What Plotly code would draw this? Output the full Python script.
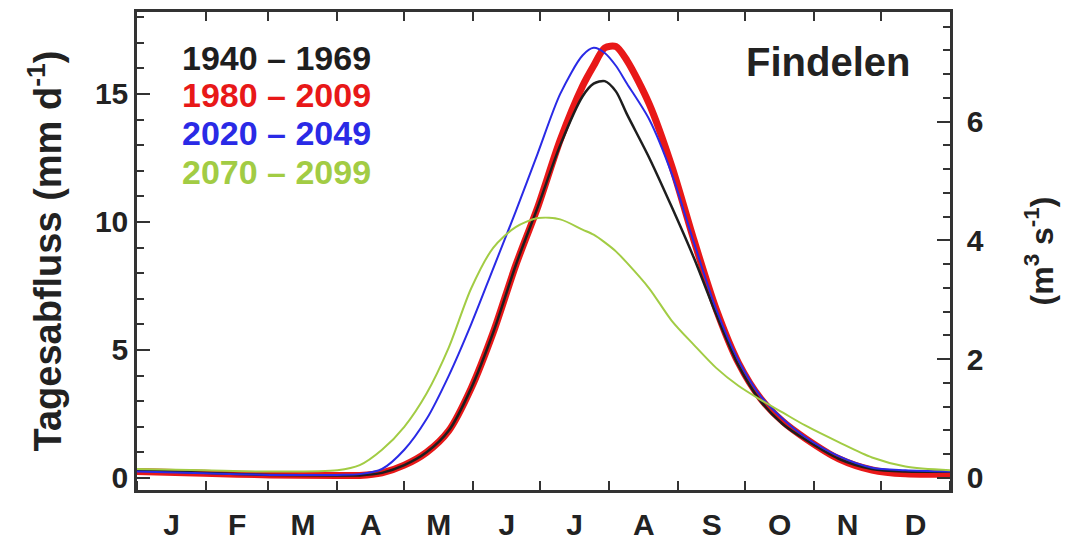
import plotly.graph_objects as go

# ---- data ----
days = [0, 30, 60, 90, 100, 110, 120, 130, 140, 150, 160, 170, 180, 190, 200, 205,
        210, 215, 220, 230, 240, 250, 260, 270, 280, 290, 300, 315, 330, 345, 365]

q_1940_1969 = [0.3, 0.2, 0.12, 0.1, 0.1, 0.2, 0.5, 1.0, 1.85, 3.5, 5.7, 8.3, 10.6, 13.0, 14.9, 15.4,
               15.5, 15.1, 14.2, 12.5, 10.6, 8.6, 6.4, 4.4, 3.0, 2.1, 1.5, 0.75, 0.35, 0.25, 0.25]
q_1980_2009 = [0.25, 0.18, 0.12, 0.1, 0.1, 0.2, 0.5, 1.0, 1.85, 3.5, 5.7, 8.3, 10.6, 13.2, 15.3, 16.1,
               16.8, 16.85, 16.3, 14.6, 12.2, 9.3, 6.6, 4.5, 3.1, 2.2, 1.55, 0.75, 0.31, 0.16, 0.15]
q_2020_2049 = [0.25, 0.18, 0.12, 0.12, 0.15, 0.35, 1.1, 2.3, 4.0, 6.0, 8.2, 10.4, 12.7, 15.0, 16.5, 16.8,
               16.6, 16.1, 15.4, 14.0, 11.9, 9.2, 6.6, 4.6, 3.2, 2.3, 1.6, 0.85, 0.4, 0.3, 0.25]
q_2070_2099 = [0.35, 0.3, 0.25, 0.3, 0.5, 1.1, 2.0, 3.3, 5.1, 7.4, 9.0, 9.8, 10.15, 10.1, 9.7, 9.5,
               9.2, 8.85, 8.4, 7.4, 6.15, 5.2, 4.3, 3.6, 3.05, 2.55, 2.05, 1.4, 0.8, 0.45, 0.3]

periods = ["1940 \u2013 1969", "1980 \u2013 2009", "2020 \u2013 2049", "2070 \u2013 2099"]
month_labels = ["J", "F", "M", "A", "M", "J", "J", "A", "S", "O", "N", "D"]
month_starts = [0, 31, 59, 90, 120, 151, 181, 212, 243, 273, 304, 334, 365]
left_ticks = [0, 5, 10, 15]
left_minor = list(range(0, 19))
right_ticks = [0, 2, 4, 6]
right_minor = [round(0.4 * k, 1) for k in range(0, 20)]
mm_per_m3s = 2.32   # conversion mm/d -> m3/s for Findelen
station = "Findelen"

# ---- styling ----
colors = ["#1e1e1e", "#e81818", "#2a2ae6", "#a2cc44"]
widths = [2.5, 7, 2, 2]
draw_order = [1, 0, 2, 3]
FONT = "Liberation Sans, Arial, sans-serif"
TXT = "#222222"
AX = "#333333"

month_mid = [(month_starts[i] + month_starts[i + 1]) / 2 for i in range(12)]
series = [q_1940_1969, q_1980_2009, q_2020_2049, q_2070_2099]

fig = go.Figure()
for i in draw_order:
    fig.add_trace(go.Scatter(x=days, y=series[i], mode="lines", name=periods[i],
                             line=dict(color=colors[i], width=widths[i], shape="spline", smoothing=0.8),
                             showlegend=False))
# empty traces to activate the extra axes
for ax_kw in [dict(yaxis="y2"), dict(xaxis="x2"), dict(yaxis="y3"), dict(yaxis="y4")]:
    fig.add_trace(go.Scatter(x=[None], y=[None], showlegend=False, hoverinfo="skip", **ax_kw))

y_lo, y_hi = -0.47, 18.2
r_lo, r_hi = y_lo / mm_per_m3s, y_hi / mm_per_m3s

tick_common = dict(tickcolor=AX, tickwidth=2, showgrid=False, zeroline=False, automargin=False)
fnt = dict(size=30, family=FONT, color=TXT, weight="bold")

fig.update_layout(
    width=1075, height=542,
    margin=dict(l=137, r=125, t=12, b=52, autoexpand=False),
    paper_bgcolor="white", plot_bgcolor="white",
    font=dict(family=FONT, color=TXT, size=30, weight="bold"),
    xaxis=dict(range=[0, 365], tickmode="array", tickvals=month_mid, ticktext=month_labels,
               ticks="", showline=True, linecolor=AX, linewidth=2.5, mirror=True,
               ticklabelstandoff=6, tickfont=fnt,
               minor=dict(tickmode="array", tickvals=month_starts, ticks="inside",
                          ticklen=9, tickcolor=AX, tickwidth=2, showgrid=False),
               **{k: v for k, v in tick_common.items() if k not in ("tickcolor", "tickwidth")}),
    xaxis2=dict(range=[0, 365], overlaying="x", side="top", tickmode="array",
                tickvals=month_starts, ticks="inside", ticklen=9, showticklabels=False,
                showline=False, **tick_common),
    yaxis=dict(range=[y_lo, y_hi], tickmode="array", tickvals=left_ticks, ticks="inside",
               ticklen=13, showline=True, linecolor=AX, linewidth=2.5, tickfont=fnt,
               title=dict(text="Tagesabfluss (mm d<sup>-1</sup>)", standoff=22,
                          font=dict(size=38, family=FONT, color=TXT, weight="bold")),
               **tick_common),
    yaxis3=dict(range=[y_lo, y_hi], overlaying="y", side="left", anchor="x", tickmode="array",
                tickvals=left_minor, ticks="inside", ticklen=7, showticklabels=False,
                showline=False, **tick_common),
    yaxis2=dict(range=[r_lo, r_hi], overlaying="y", side="right", anchor="x",
                tickmode="array", tickvals=right_ticks, ticks="inside", ticklen=13,
                showline=True, linecolor=AX, linewidth=2.5, ticklabelstandoff=8, tickfont=fnt,
                title=dict(text="(m<sup>3</sup> s<sup>-1</sup>)", standoff=48,
                           font=dict(size=32, family=FONT, color=TXT, weight="bold")),
                **tick_common),
    yaxis4=dict(range=[r_lo, r_hi], overlaying="y", side="right", anchor="x", tickmode="array",
                tickvals=right_minor, ticks="inside", ticklen=7, showticklabels=False,
                showline=False, **tick_common),
)

legend_y = [0.904, 0.826, 0.747, 0.665]
for i in range(4):
    fig.add_annotation(xref="paper", yref="paper", x=0.053, y=legend_y[i], xanchor="left",
                       yanchor="middle", text=periods[i], showarrow=False,
                       font=dict(size=34, family=FONT, color=colors[i], weight="bold"))
fig.add_annotation(xref="paper", yref="paper", x=0.953, y=0.895, xanchor="right", yanchor="middle",
                   text=station, showarrow=False,
                   font=dict(size=40, family=FONT, color=TXT, weight="bold"))

fig.write_html("out.html")
